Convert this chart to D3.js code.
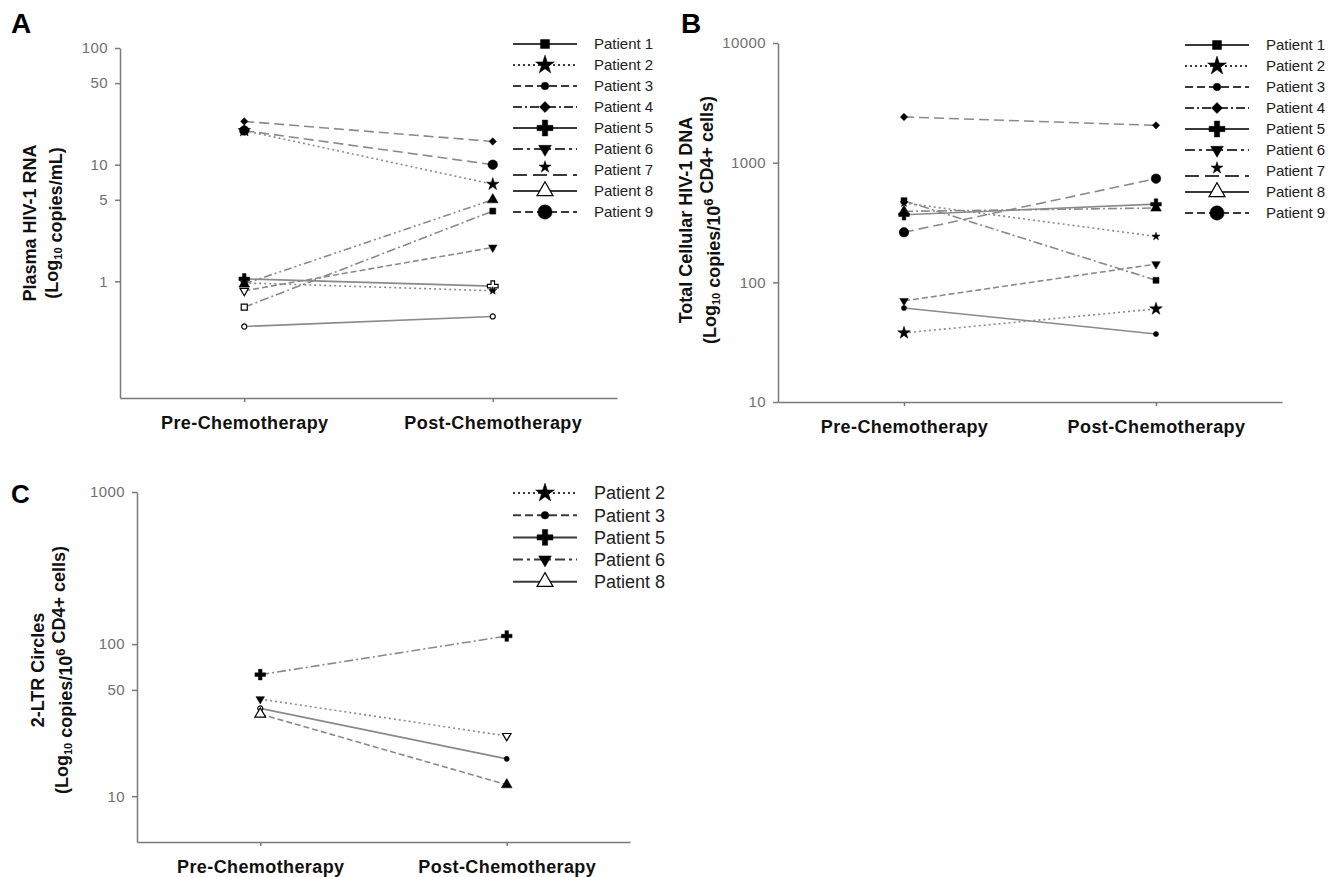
<!DOCTYPE html>
<html>
<head>
<meta charset="utf-8">
<script src="https://cdn.jsdelivr.net/npm/d3@7"></script>
<style>
  body { margin: 0; background: #fff; }
  svg { font-family: "Liberation Sans", Arial, sans-serif; }
</style>
</head>
<body>
<svg id="chart" width="1334" height="877"></svg>
<script>
// ---- data ----
var categories = ["Pre-Chemotherapy", "Post-Chemotherapy"];

// Panel A: plasma HIV-1 RNA
var patientsA = ["Patient 4", "Patient 9", "Patient 2", "Patient 8", "Patient 1", "Patient 6", "Patient 5", "Patient 7", "Patient 3"];
var preA  = [23.5, 19.6, 19.6, 0.95, 0.60, 0.83, 1.05, 0.97, 0.41];
var postA = [15.8, 10.0, 6.8, 5.0, 4.0, 1.95, 0.91, 0.83, 0.50];
var openPreA  = [false, false, false, false, true, true, false, false, true];
var openPostA = [false, false, false, false, false, false, true, false, true];
var ticksA = [1, 5, 10, 50, 100];

// Panel B: total cellular HIV-1 DNA
var patientsB = ["Patient 4", "Patient 9", "Patient 1", "Patient 7", "Patient 2", "Patient 5", "Patient 8", "Patient 6", "Patient 3"];
var preB  = [2410, 262, 481, 460, 37.8, 367, 392, 70, 61];
var postB = [2050, 735, 104, 242, 60, 450, 418, 142, 37];
var openPreB  = [false, false, false, false, false, false, false, false, false];
var openPostB = [false, false, false, false, false, false, false, false, false];
var ticksB = [10, 100, 1000, 10000];

// Panel C: 2-LTR circles
var patientsC = ["Patient 5", "Patient 6", "Patient 3", "Patient 8"];
var preC  = [63, 43.5, 37.8, 34.7];
var postC = [113, 24.9, 17.6, 11.9];
var openPreC  = [false, false, true, true];
var openPostC = [false, true, false, false];
var ticksC = [10, 50, 100, 1000];

var legendAB = ["Patient 1", "Patient 2", "Patient 3", "Patient 4", "Patient 5", "Patient 6", "Patient 7", "Patient 8", "Patient 9"];
var legendC = ["Patient 2", "Patient 3", "Patient 5", "Patient 6", "Patient 8"];

// ---- styles ----
var patientStyle = {
  "Patient 1": { symbol: d3.symbolSquare,   rot: 0,   size: 80,  dash: null },
  "Patient 2": { symbol: d3.symbolStar,     rot: 0,   size: 110, dash: "2,3" },
  "Patient 3": { symbol: d3.symbolCircle,   rot: 0,   size: 45,  dash: "8,4" },
  "Patient 4": { symbol: d3.symbolSquare,   rot: 45,  size: 60,  dash: "9,3,2,3" },
  "Patient 5": { symbol: d3.symbolCross,    rot: 0,   size: 140, dash: null },
  "Patient 6": { symbol: d3.symbolTriangle, rot: 180, size: 70,  dash: "10,4,3,4" },
  "Patient 7": { symbol: d3.symbolStar,     rot: 0,   size: 45,  dash: "14,6", markerDy: -3, lineDy: 5 },
  "Patient 8": { symbol: d3.symbolTriangle, rot: 0,   size: 110, dash: null, open: true },
  "Patient 9": { symbol: d3.symbolCircle,   rot: 0,   size: 160, dash: "8,4" }
};

// dash patterns of the connecting lines as drawn in each panel
var longDash = "10,5", dashDot = "9,3,2,3", dashDotDot = "8,3,2,3,2,3", shortDash = "6,3", dotted = "2,3";
var plotDashA = [longDash, longDash, dotted, dashDotDot, dashDot, shortDash, null, dotted, null];
var plotDashB = [longDash, longDash, dashDot, dotted, dotted, null, dashDot, shortDash, null];
var plotDashC = [dashDot, dotted, null, shortDash];

var svg = d3.select("#chart");
var format = d3.format("d");

function marker(g, name, x, y, scale, open) {
  var s = patientStyle[name];
  g.append("path")
    .attr("d", d3.symbol().type(s.symbol).size(s.size * scale)())
    .attr("transform", "translate(" + x + "," + y + ") rotate(" + s.rot + ")")
    .attr("fill", open ? "#fff" : "#000")
    .attr("stroke", "#000")
    .attr("stroke-width", open ? 1.2 : 0.5);
}

function drawPanel(p) {
  var g = svg.append("g");

  var x = d3.scalePoint().domain(categories).range([p.x0, p.x1]).padding(0.5);
  var y = d3.scaleLog().domain(p.domain).range([p.yBottom, p.yTop]);

  // panel letter
  g.append("text")
    .attr("x", p.letterX).attr("y", p.letterY)
    .attr("font-size", p.letterSize).attr("font-weight", "bold")
    .text(p.letter);

  // y axis
  var yAxis = g.append("g")
    .attr("transform", "translate(" + p.x0 + ",0)")
    .call(d3.axisLeft(y).tickValues(p.ticks).tickFormat(format).tickSize(5).tickSizeOuter(0).tickPadding(7));
  yAxis.selectAll("path, line").attr("stroke", "#7a7a7a").attr("stroke-width", 1.5);
  yAxis.selectAll("text").attr("fill", "#707070").attr("font-size", 15)
    .attr("letter-spacing", 0.4).attr("font-family", null);

  // x axis
  var xAxis = g.append("g")
    .attr("transform", "translate(0," + p.yBottom + ")")
    .call(d3.axisBottom(x).tickSize(4).tickSizeOuter(0).tickPadding(14));
  xAxis.selectAll("path, line").attr("stroke", "#7a7a7a").attr("stroke-width", 1.5);
  xAxis.selectAll("text").attr("fill", "#111").attr("font-size", 18).attr("font-weight", "bold")
    .attr("letter-spacing", 0.4).attr("font-family", null);

  // y axis title (two lines)
  var title = g.append("text")
    .attr("transform", "translate(" + p.titleX + "," + p.titleY + ") rotate(-90)")
    .attr("text-anchor", "middle")
    .attr("font-size", 18).attr("font-weight", "bold").attr("fill", "#111");
  title.append("tspan").attr("x", 0).attr("dy", 0).text(p.title1);
  var l2 = title.append("tspan").attr("x", 0).attr("dy", p.titleGap);
  p.title2.forEach(function(part) {
    if (part.sub) {
      l2.append("tspan").attr("font-size", 11).attr("dy", 4).text(part.sub);
      l2.append("tspan").attr("dy", -4).text("");
    } else if (part.sup) {
      l2.append("tspan").attr("font-size", 13).attr("dy", -7).text(part.sup);
      l2.append("tspan").attr("dy", 7).text("");
    } else {
      l2.append("tspan").text(part.t);
    }
  });

  // connecting lines
  p.names.forEach(function(name, i) {
    g.append("path")
      .datum([[categories[0], p.pre[i]], [categories[1], p.post[i]]])
      .attr("d", d3.line().x(function(d) { return x(d[0]); }).y(function(d) { return y(d[1]); }))
      .attr("fill", "none")
      .attr("stroke", "#8a8a8a")
      .attr("stroke-width", 1.6)
      .attr("stroke-dasharray", p.dash[i]);
  });
  // markers (open = below detection)
  p.names.forEach(function(name, i) {
    marker(g, name, x(categories[0]), y(p.pre[i]), 0.45, p.openPre[i]);
    marker(g, name, x(categories[1]), y(p.post[i]), 0.45, p.openPost[i]);
  });

  // legend
  var leg = g.append("g").attr("transform", "translate(" + p.legX + "," + p.legY + ")");
  p.legend.forEach(function(name, i) {
    var s = patientStyle[name];
    var row = leg.append("g").attr("transform", "translate(0," + (i * p.legStep) + ")");
    var ly = s.lineDy || 0;
    row.append("line")
      .attr("x1", 0).attr("x2", 64).attr("y1", ly).attr("y2", ly)
      .attr("stroke", "#3a3a3a").attr("stroke-width", 2)
      .attr("stroke-dasharray", s.dash);
    marker(row, name, 32, s.markerDy || 0, 1, !!s.open);
    row.append("text")
      .attr("x", 81).attr("y", 0).attr("dy", "0.35em")
      .attr("font-size", p.legFont).attr("fill", "#222")
      .text(name);
  });
}

drawPanel({
  letter: "A", letterX: 11, letterY: 33, letterSize: 28,
  x0: 120, x1: 617, yTop: 48, yBottom: 398, domain: [0.1, 100], ticks: ticksA,
  names: patientsA, pre: preA, post: postA, openPre: openPreA, openPost: openPostA, dash: plotDashA,
  titleX: 36, titleY: 223, titleGap: 22,
  title1: "Plasma HIV-1 RNA",
  title2: [{t: "(Log"}, {sub: "10"}, {t: " copies/mL)"}],
  legend: legendAB, legX: 513, legY: 44, legStep: 21, legFont: 15
});

drawPanel({
  letter: "B", letterX: 681, letterY: 33, letterSize: 28,
  x0: 778, x1: 1282, yTop: 43, yBottom: 402, domain: [10, 10000], ticks: ticksB,
  names: patientsB, pre: preB, post: postB, openPre: openPreB, openPost: openPostB, dash: plotDashB,
  titleX: 692, titleY: 220, titleGap: 24,
  title1: "Total Cellular HIV-1 DNA",
  title2: [{t: "(Log"}, {sub: "10"}, {t: " copies/10"}, {sup: "6"}, {t: " CD4+ cells)"}],
  legend: legendAB, legX: 1185, legY: 45, legStep: 21, legFont: 15
});

drawPanel({
  letter: "C", letterX: 11, letterY: 503, letterSize: 26,
  x0: 137, x1: 630, yTop: 492, yBottom: 842, domain: [5, 1000], ticks: ticksC,
  names: patientsC, pre: preC, post: postC, openPre: openPreC, openPost: openPostC, dash: plotDashC,
  titleX: 44, titleY: 670, titleGap: 24,
  title1: "2-LTR Circles",
  title2: [{t: "(Log"}, {sub: "10"}, {t: " copies/10"}, {sup: "6"}, {t: " CD4+ cells)"}],
  legend: legendC, legX: 513, legY: 493, legStep: 22.2, legFont: 18
});
</script>
</body>
</html>
